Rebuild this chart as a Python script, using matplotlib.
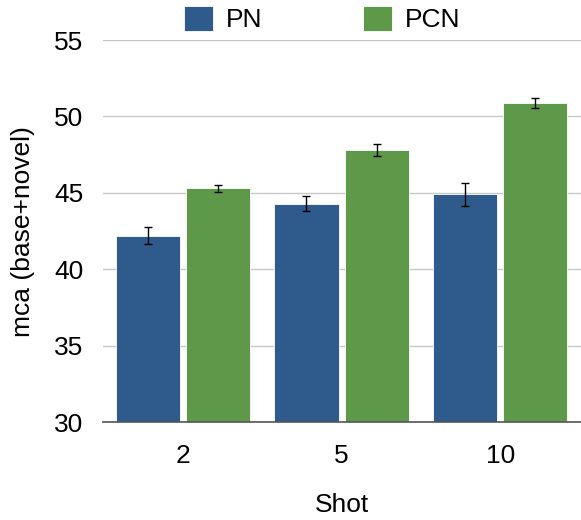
import matplotlib.pyplot as plt
import numpy as np

plt.rcParams['font.family'] = ['Liberation Sans', 'DejaVu Sans']

shots = ['2', '5', '10']
pn = [42.2, 44.3, 44.9]
pn_err = [0.57, 0.5, 0.75]
pcn = [45.3, 47.8, 50.9]
pcn_err = [0.22, 0.38, 0.32]

x = np.arange(len(shots))
w = 0.405

fig = plt.figure(figsize=(5.81, 5.20), dpi=100)
ax = fig.add_axes([0.177, 0.188, 0.823, 0.735])

ax.bar(x - 0.222, pn, w, color='#2E5A8C', edgecolor='white', linewidth=0.6, label='PN', zorder=2)
ax.bar(x + 0.222, pcn, w, color='#5E9849', edgecolor='white', linewidth=0.6, label='PCN', zorder=2)
ax.errorbar(x - 0.222, pn, yerr=pn_err, fmt='none', ecolor='black', elinewidth=1, capsize=3, capthick=1, zorder=3)
ax.errorbar(x + 0.222, pcn, yerr=pcn_err, fmt='none', ecolor='black', elinewidth=1, capsize=3, capthick=1, zorder=3)

ax.set_ylim(30, 55)
ax.set_xlim(-0.506, 2.51)
ax.set_yticks([30, 35, 40, 45, 50, 55])
ax.set_xticks(x)
ax.set_xticklabels(shots)
ax.tick_params(axis='both', length=0, labelsize=19)
ax.tick_params(axis='x', pad=16)
ax.tick_params(axis='y', pad=14)
ax.yaxis.grid(True, color='#c8c8c8', linewidth=1, zorder=0)
ax.set_axisbelow(True)
for s in ['left', 'right', 'top']:
    ax.spines[s].set_visible(False)
ax.spines['bottom'].set_color('#555555')
ax.spines['bottom'].set_linewidth(1.2)

ax.set_xlabel('Shot', fontsize=19, labelpad=18)
ax.set_ylabel('mca (base+novel)', fontsize=19, labelpad=14)

fig.legend(loc='upper center', bbox_to_anchor=(0.555, 1.035), ncol=2, frameon=False,
           fontsize=19, handlelength=1.1, handleheight=1.1, columnspacing=3.8, handletextpad=0.5)

plt.savefig('out.png', dpi=100)
